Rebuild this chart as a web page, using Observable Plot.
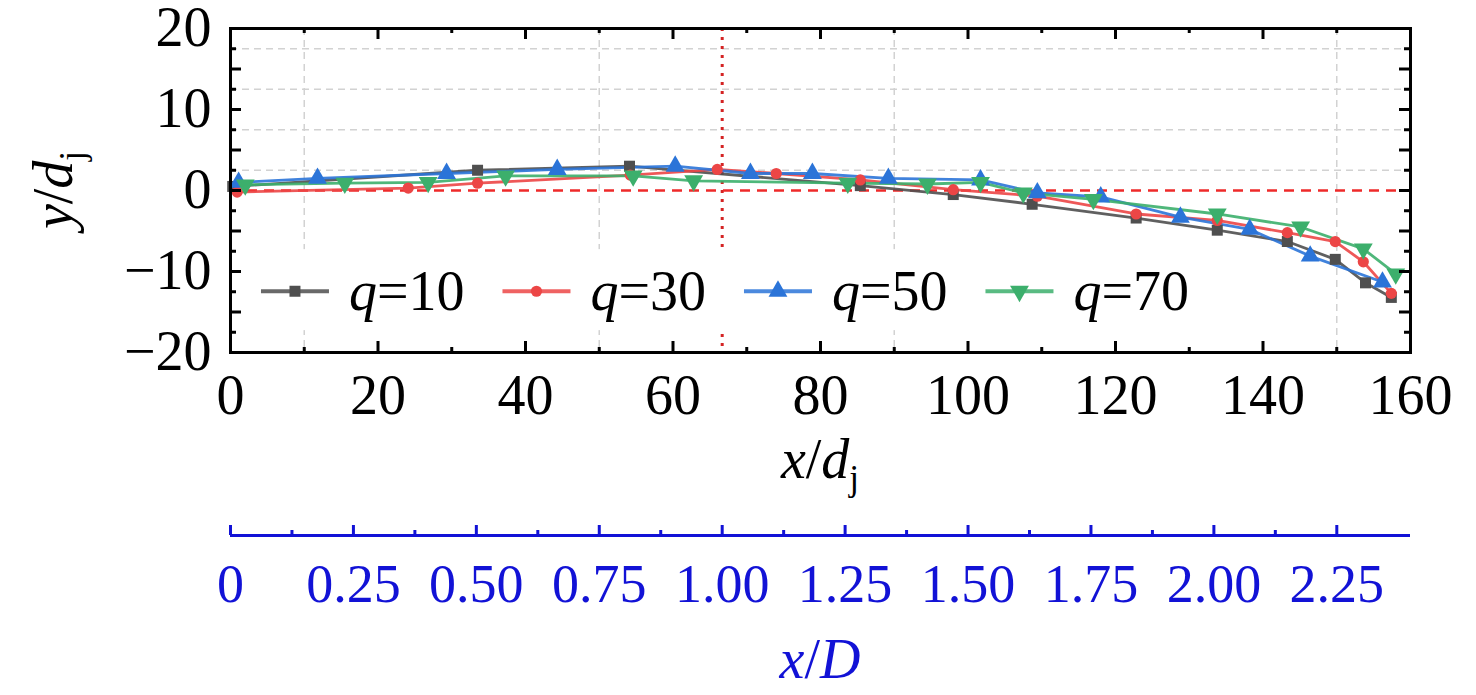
<!DOCTYPE html>
<html>
<head>
<meta charset="utf-8">
<script src="https://cdn.jsdelivr.net/npm/d3@7"></script>
<script src="https://cdn.jsdelivr.net/npm/@observablehq/plot@0.6"></script>
<style>
html,body{margin:0;padding:0;background:#fff;}
#chart svg{display:block;}
</style>
</head>
<body>
<div id="chart"></div>
<script>
// ---------------- data ----------------
const seriesLabels = ["10", "30", "50", "70"];
const seriesColors = ["#4f4f4f", "#ec4646", "#2b74d8", "#3caf6c"];

const q10X = [0.3, 33.5, 54.1, 85.4, 98.0, 108.7, 122.8, 133.8, 143.3, 149.8, 153.9, 157.4];
const q10Y = [0.5, 2.5, 3.0, 0.6, -0.5, -1.7, -3.4, -4.9, -6.3, -8.5, -11.4, -13.2];

const q30X = [0.9, 24.1, 33.5, 54.2, 66.0, 74.0, 85.4, 98.0, 109.4, 122.8, 133.8, 143.3, 149.8, 153.6, 157.4];
const q30Y = [-0.2, 0.3, 0.9, 1.9, 2.6, 2.1, 1.3, 0.1, -0.7, -2.9, -3.7, -5.2, -6.3, -8.8, -12.7];

const q50X = [1.1, 11.8, 29.3, 44.3, 60.3, 70.5, 78.9, 89.2, 101.7, 109.4, 118.0, 128.8, 138.2, 146.4, 156.2];
const q50Y = [1.0, 1.5, 2.1, 2.6, 3.0, 2.1, 2.1, 1.5, 1.3, -0.3, -0.8, -3.3, -4.8, -8.1, -11.3];

const q70X = [2.0, 15.5, 26.8, 37.3, 54.6, 62.8, 83.7, 94.5, 101.7, 107.5, 117.0, 133.8, 145.1, 153.6, 158.0];
const q70Y = [0.7, 0.9, 1.0, 1.8, 1.8, 1.2, 0.9, 0.8, 1.0, -0.3, -1.1, -2.9, -4.5, -7.2, -10.3];

const xMajorTicks = [0, 20, 40, 60, 80, 100, 120, 140, 160];
const xMinorTicks = [10, 30, 50, 70, 90, 110, 130, 150];
const yLabelTicks = [-20, -10, 0, 10, 20];
const yMajorTicks = [-15, -10, -5, 0, 5, 10, 15];
const yMinorTicks = [-17.5, -12.5, -7.5, -2.5, 2.5, 7.5, 12.5, 17.5];
const gridX = [10, 50, 90, 150];
const gridY = [2.5, 7.5, 12.5, 17.5];
const refY = [0];
const refXD = [1];            // x/D = 1
const D_over_dj = 66.67;      // D in units of d_j
const xDMajor = [0, 0.25, 0.5, 0.75, 1.0, 1.25, 1.5, 1.75, 2.0, 2.25];
const xDMinor = [0.125, 0.375, 0.625, 0.875, 1.125, 1.375, 1.625, 1.875, 2.125];

// ---------------- build ----------------
const font = "'Liberation Serif','Times New Roman',serif";
const W = 1476;
const mainH = 500, mL = 230, mR = 66, mT = 28, mB = 148;
const plotW = W - mL - mR, plotH = mainH - mT - mB;

const seriesXs = [q10X, q30X, q50X, q70X];
const seriesYs = [q10Y, q30Y, q50Y, q70Y];
const series = seriesLabels.map((lab, i) =>
  seriesXs[i].map((x, j) => ({x, y: seriesYs[i][j], s: lab})));

const triangleDown = {
  draw(context, size) {
    const y = -Math.sqrt(size / (Math.sqrt(3) * 3));
    context.moveTo(0, -y * 2);
    context.lineTo(-Math.sqrt(3) * y, y);
    context.lineTo(Math.sqrt(3) * y, y);
    context.closePath();
  }
};
const symbols = ["square", "circle", "triangle", triangleDown];
const dotR = [6.2, 5.6, 7.0, 7.0];

const seriesMarks = [];
series.forEach((d, i) => {
  seriesMarks.push(Plot.line(d, {x: "x", y: "y", stroke: seriesColors[i], strokeWidth: 2.8, strokeOpacity: 0.9}));
});
series.forEach((d, i) => {
  seriesMarks.push(Plot.dot(d, {x: "x", y: "y", symbol: () => symbols[i], r: dotR[i], fill: seriesColors[i], stroke: "none"}));
});

const minus = d => (d < 0 ? "\u2212" + Math.abs(d) : String(d));

const main = Plot.plot({
  width: W, height: mainH,
  marginLeft: mL, marginRight: mR, marginTop: mT, marginBottom: mB,
  style: {fontFamily: font, background: "white", color: "black", overflow: "visible"},
  x: {domain: [0, 160], axis: null, label: null},
  y: {domain: [-20, 20], axis: null, label: null},
  marks: [
    Plot.ruleX(gridX, {stroke: "#d2d2d2", strokeWidth: 1.5, strokeDasharray: "7,5"}),
    Plot.ruleY(gridY, {stroke: "#d2d2d2", strokeWidth: 1.5, strokeDasharray: "7,5"}),
    Plot.ruleX(refXD, {x: d => d * D_over_dj, stroke: "#d42323", strokeWidth: 3, strokeDasharray: "3,6"}),
    Plot.ruleY(refY, {stroke: "#ee2a2a", strokeWidth: 2.5, strokeDasharray: "10,7"}),
    ...seriesMarks,
    // inward ticks
    Plot.tickX(xMajorTicks, {x: d => d, insetTop: plotH - 11, stroke: "black", strokeWidth: 3}),
    Plot.tickX(xMajorTicks, {x: d => d, insetBottom: plotH - 11, stroke: "black", strokeWidth: 3}),
    Plot.tickX(xMinorTicks, {x: d => d, insetTop: plotH - 5, stroke: "black", strokeWidth: 3}),
    Plot.tickX(xMinorTicks, {x: d => d, insetBottom: plotH - 5, stroke: "black", strokeWidth: 3}),
    Plot.tickY(yMajorTicks, {y: d => d, insetRight: plotW - 11, stroke: "black", strokeWidth: 3}),
    Plot.tickY(yMajorTicks, {y: d => d, insetLeft: plotW - 11, stroke: "black", strokeWidth: 3}),
    Plot.tickY(yMinorTicks, {y: d => d, insetRight: plotW - 6, stroke: "black", strokeWidth: 3}),
    Plot.tickY(yMinorTicks, {y: d => d, insetLeft: plotW - 6, stroke: "black", strokeWidth: 3}),
    Plot.frame({stroke: "black", strokeWidth: 3}),
    Plot.axisX({anchor: "bottom", ticks: xMajorTicks, tickSize: 0, tickPadding: 22, fontSize: 56, tickFormat: minus, label: null}),
    Plot.axisY({anchor: "left", ticks: yLabelTicks, tickSize: 0, tickPadding: 19, fontSize: 56, tickFormat: minus, label: null})
  ]
});

// secondary x/D axis
const blue = "#1212d6";
const secH = 195;
const sec = Plot.plot({
  width: W, height: secH,
  marginLeft: mL, marginRight: mR, marginTop: 25, marginBottom: 160,
  style: {fontFamily: font, background: "white", color: blue, overflow: "visible"},
  x: {domain: [0, 160 / D_over_dj], axis: null, label: null},
  y: {domain: [0, 1], axis: null},
  marks: [
    Plot.ruleY([0], {stroke: blue, strokeWidth: 3}),
    Plot.tickX(xDMajor, {x: d => d, stroke: blue, strokeWidth: 3}),
    Plot.tickX(xDMinor, {x: d => d, insetTop: 5, stroke: blue, strokeWidth: 3}),
    Plot.axisX({anchor: "bottom", ticks: xDMajor, tickSize: 0, tickPadding: 28, fontSize: 54, fill: blue,
      tickFormat: d => (d === 0 ? "0" : d.toFixed(2)), label: null})
  ]
});

const host = document.getElementById("chart");
host.append(main);
host.append(sec);

// ---- titles & legend ----
const xs = main.scale("x"), ys = main.scale("y");
const svg = d3.select(main);

// x/dj title
const xt = svg.append("text")
  .attr("x", (xs.apply(0) + xs.apply(160)) / 2).attr("y", 478)
  .attr("text-anchor", "middle").attr("font-family", font).attr("font-size", 56).attr("fill", "black");
xt.append("tspan").attr("font-style", "italic").text("x");
xt.append("tspan").text("/");
xt.append("tspan").attr("font-style", "italic").text("d");
xt.append("tspan").attr("font-size", 35).attr("dy", 12).text("j");

// y/dj title
const cy = (ys.apply(-20) + ys.apply(20)) / 2;
const yt = svg.append("text")
  .attr("transform", `translate(72,${cy}) rotate(-90)`)
  .attr("text-anchor", "middle").attr("font-family", font).attr("font-size", 56).attr("fill", "black");
yt.append("tspan").attr("font-style", "italic").text("y");
yt.append("tspan").text("/");
yt.append("tspan").attr("font-style", "italic").text("d");
yt.append("tspan").attr("font-size", 35).attr("dy", 12).text("j");

// legend
const lg = svg.append("g").attr("text-anchor", "start");
lg.append("rect")
  .attr("x", xs.apply(2)).attr("y", ys.apply(-7.3))
  .attr("width", xs.apply(132) - xs.apply(2))
  .attr("height", ys.apply(-17.3) - ys.apply(-7.3))
  .attr("fill", "white");
const ly = ys.apply(-12.5);
const lx0 = xs.apply(4.2);
const lstep = 241.5;
seriesLabels.forEach((lab, i) => {
  const x0 = lx0 + i * lstep;
  lg.append("line").attr("x1", x0).attr("x2", x0 + 68).attr("y1", ly).attr("y2", ly)
    .attr("stroke", seriesColors[i]).attr("stroke-width", 4).attr("stroke-opacity", 0.85);
  const sym = symbols[i] === "square" ? d3.symbolSquare : symbols[i] === "circle" ? d3.symbolCircle
            : symbols[i] === "triangle" ? d3.symbolTriangle : triangleDown;
  const area = Math.PI * dotR[i] * dotR[i];
  lg.append("path").attr("d", d3.symbol(sym, area)()).attr("transform", `translate(${x0 + 34},${ly})`)
    .attr("fill", seriesColors[i]);
  const t = lg.append("text").attr("x", x0 + 88).attr("y", ly + 19)
    .attr("text-anchor", "start")
    .attr("font-family", font).attr("font-size", 56).attr("fill", "black");
  t.append("tspan").attr("font-style", "italic").text("q");
  t.append("tspan").text("=" + lab);
});

// x/D title
const sx = sec.scale("x");
const st = d3.select(sec).append("text")
  .attr("x", (sx.apply(0) + sx.apply(160 / D_over_dj)) / 2).attr("y", 178)
  .attr("text-anchor", "middle").attr("font-family", font).attr("font-size", 56).attr("fill", blue);
st.append("tspan").attr("font-style", "italic").text("x");
st.append("tspan").text("/");
st.append("tspan").attr("font-style", "italic").text("D");
</script>
</body>
</html>
